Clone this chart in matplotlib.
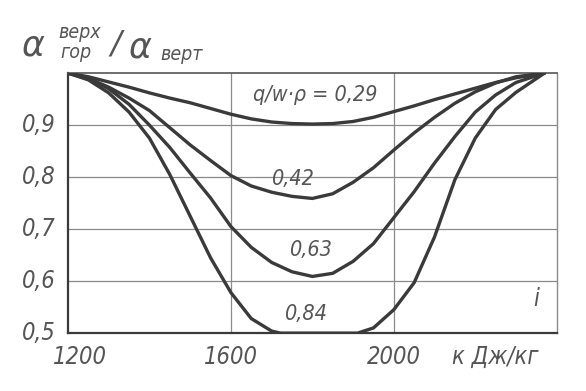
import matplotlib
matplotlib.use("Agg")
import matplotlib.pyplot as plt

# ---------------- data ----------------
x_029 = [1200, 1250, 1300, 1350, 1400, 1450, 1500, 1550, 1600, 1650, 1700, 1750,
         1800, 1850, 1900, 1950, 2000, 2050, 2100, 2150, 2200, 2250, 2300, 2370]
y_029 = [1.0, 0.993, 0.983, 0.973, 0.962, 0.952, 0.943, 0.932, 0.921, 0.912, 0.906, 0.903,
         0.902, 0.903, 0.907, 0.915, 0.926, 0.937, 0.949, 0.960, 0.971, 0.982, 0.991, 1.0]

x_042 = [1200, 1250, 1300, 1350, 1400, 1450, 1500, 1550, 1600, 1650, 1700, 1750,
         1800, 1850, 1900, 1950, 2000, 2050, 2100, 2150, 2200, 2250, 2300, 2370]
y_042 = [1.0, 0.99, 0.973, 0.952, 0.928, 0.895, 0.862, 0.832, 0.803, 0.783, 0.771, 0.763,
         0.759, 0.768, 0.790, 0.818, 0.852, 0.885, 0.915, 0.942, 0.964, 0.981, 0.993, 1.0]

x_063 = [1200, 1250, 1300, 1350, 1400, 1450, 1500, 1550, 1600, 1650, 1700, 1750,
         1800, 1850, 1900, 1950, 2000, 2050, 2100, 2150, 2200, 2250, 2300, 2370]
y_063 = [1.0, 0.99, 0.97, 0.94, 0.90, 0.857, 0.808, 0.76, 0.705, 0.665, 0.636, 0.618,
         0.609, 0.615, 0.638, 0.672, 0.722, 0.772, 0.827, 0.878, 0.925, 0.958, 0.982, 1.0]

x_084 = [1200, 1250, 1300, 1350, 1400, 1450, 1500, 1550, 1600, 1650, 1700, 1722,
         1800, 1911, 1950, 2000, 2050, 2100, 2150, 2200, 2250, 2300, 2370]
y_084 = [1.0, 0.987, 0.962, 0.925, 0.875, 0.805, 0.725, 0.645, 0.578, 0.528, 0.504, 0.5,
         0.5, 0.5, 0.51, 0.545, 0.597, 0.685, 0.795, 0.875, 0.93, 0.963, 1.0]

x_ticks = [1200, 1600, 2000]
x_ticklabels = ["1200", "1600", "2000"]
y_ticks = [0.5, 0.6, 0.7, 0.8, 0.9]
y_ticklabels = ["0,5", "0,6", "0,7", "0,8", "0,9"]
curve_labels = ["q/w·ρ = 0,29", "0,42", "0,63", "0,84"]

# ---------------- style ----------------
plt.rcParams['font.family'] = ['DejaVu Sans']
ink = "#3a3a3a"
grid_c = "#8a8a8a"
txt_c = "#555555"

fig = plt.figure(figsize=(5.86, 3.91), dpi=100)
fig.patch.set_facecolor("white")
ax = fig.add_axes([0.116, 0.148, 0.834, 0.665])

for xs, ys in [(x_029, y_029), (x_042, y_042), (x_063, y_063), (x_084, y_084)]:
    ax.plot(xs, ys, color=ink, lw=2.4, solid_capstyle="round", solid_joinstyle="round",
            clip_on=True, zorder=3)

ax.set_xlim(1200, 2400)
ax.set_ylim(0.5, 1.0)
for gx in [1600, 2000]:
    ax.axvline(gx, color=grid_c, lw=0.9, zorder=1)
for gy in [0.6, 0.7, 0.8, 0.9]:
    ax.axhline(gy, color=grid_c, lw=0.9, zorder=1)

for s in ax.spines.values():
    s.set_color(ink)
    s.set_linewidth(1.6)
ax.spines['right'].set_color(grid_c)
ax.spines['right'].set_linewidth(1.0)
ax.spines['top'].set_color("#555555")
ax.spines['top'].set_linewidth(1.2)

ax.tick_params(length=0, pad=0)
ax.set_xticks(x_ticks)
ax.set_xticklabels([])
ax.set_yticks(y_ticks)
ax.set_yticklabels([])

tfont = dict(fontsize=17, style="italic", color=txt_c, stretch="condensed")
sfont = dict(fontsize=15.5, style="italic", color=txt_c, stretch="condensed")
# y tick labels
for v, lab in zip(y_ticks, y_ticklabels):
    ax.text(-0.025, v, lab, transform=ax.get_yaxis_transform(), ha="right", va="center", **tfont)
# x tick labels
for v, lab in zip(x_ticks, x_ticklabels):
    off = 30 if v == 1200 else 0
    ax.text(v + off, -0.045, lab, transform=ax.get_xaxis_transform(), ha="center", va="top", **tfont)
ax.text(2250, -0.045, "к Дж/кг", transform=ax.get_xaxis_transform(), ha="center", va="top", **tfont)
ax.text(2350, 0.566, "i", ha="center", va="center", **tfont)

# curve labels
ax.text(1808, 0.958, curve_labels[0], ha="center", va="center", **sfont)
ax.text(1750, 0.796, curve_labels[1], ha="center", va="center", **sfont)
ax.text(1796, 0.66, curve_labels[2], ha="center", va="center", **sfont)
ax.text(1783, 0.537, curve_labels[3], ha="center", va="center", **sfont)

# title  α^верх_гор / α_верт
W, H = 586.0, 391.0
def ft(px, py, s, size, **kw):
    fig.text(px / W, 1 - py / H, s, fontsize=size, color=txt_c, va="center", ha="left", **kw)

ft(22, 45, "α", 25, style="italic")
ft(58, 32, "верх", 14, style="italic", stretch="condensed")
ft(60, 53, "гор", 14, style="italic", stretch="condensed")
ft(110, 44, "/", 23, style="italic")
ft(129, 47, "α", 25, style="italic")
ft(160, 55, "верт", 14, style="italic", stretch="condensed")

fig.savefig("out.png", dpi=100, facecolor="white")
